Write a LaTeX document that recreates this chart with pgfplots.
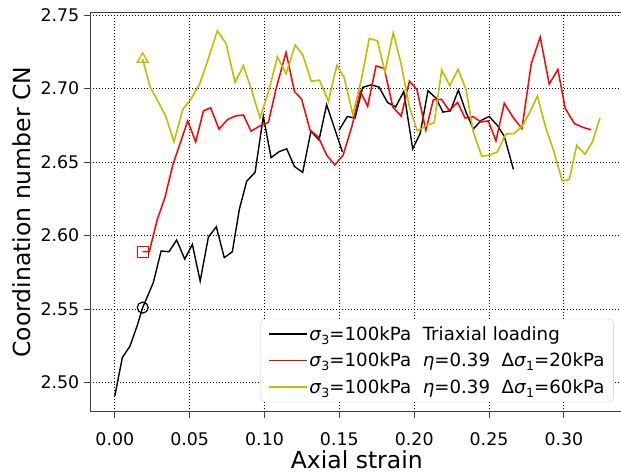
\documentclass[border=0pt]{standalone}
\usepackage{fontspec}
\setmainfont{DejaVu Sans}
\usepackage{pgfplots}
\pgfplotsset{compat=1.18}
\definecolor{myyellow}{rgb}{0.75,0.75,0}
\newcommand{\sig}{\textit{σ}}
\newcommand{\sub}[1]{\lower0.22em\hbox{\fontsize{12.6}{12}\selectfont #1}}
\begin{document}
\begin{tikzpicture}
\useasboundingbox (-90.3pt,-62.3pt) rectangle (530.7pt,411.7pt);
\begin{axis}[
  scale only axis, width=533pt, height=399pt,
  xmin=-0.0164, xmax=0.3397, ymin=2.4802, ymax=2.7516,
  xtick={0,0.05,0.1,0.15,0.2,0.25,0.3},
  ytick={2.50,2.55,2.60,2.65,2.70,2.75},
  /pgf/number format/.cd, fixed, fixed zerofill, precision=2, assume math mode=true,
  /pgfplots/.cd,
  tick pos=left,
  tick align=outside, major tick length=6pt,
  tick style={black!75, line width=1pt},
  axis line style={black!75, line width=1.2pt},
  grid=major,
  grid style={black, line width=0.8pt, dash pattern=on 1pt off 2pt},
  ticklabel style={font=\fontsize{17.4}{20}\selectfont},
  xticklabel style={anchor=base, yshift=-27.7pt},
  yticklabel style={anchor=east, xshift=-1.5pt},
  xlabel={Axial strain},
  ylabel={Coordination number CN},
  label style={font=\fontsize{23.5}{26}\selectfont},
  xlabel style={at={(axis description cs:0.5,-0.1436)}, anchor=base},
  ylabel style={at={(axis description cs:-0.1131,0.5)}, anchor=base, rotate=0},
  unbounded coords=jump,
  legend image code/.code={\draw[#1] (0pt,0pt) -- (38pt,0pt);},
  legend cell align=left,
  legend style={at={(1,0)}, anchor=south east, xshift=-9.7pt, yshift=9.5pt,
    draw=black!20, rounded corners=4pt, fill=white,
    font=\fontsize{18.2}{21}\selectfont,
    inner xsep=7pt, inner ysep=5.5pt, row sep=7pt},
]
\addplot[black, line width=1.4pt] coordinates {
(0.000,2.491) (0.005,2.517) (0.0102,2.525) (0.015,2.539) (0.0186,2.551)
(0.0257,2.568) (0.0309,2.5895) (0.0362,2.589) (0.0413,2.597) (0.0467,2.584)
(0.0518,2.594) (0.057,2.569) (0.0625,2.599) (0.0678,2.606) (0.0731,2.585)
(0.0785,2.589) (0.0832,2.618) (0.0881,2.637) (0.0937,2.643) (0.0992,2.681)
(0.1044,2.653) (0.1096,2.657) (0.1148,2.659) (0.120,2.647) (0.1255,2.643)
(0.131,2.671) (0.1364,2.665) (0.1415,2.689) (0.152,2.657)
(0.151,nan)
(0.1498,2.6717) (0.1553,2.681) (0.1605,2.680) (0.1656,2.7008) (0.1712,2.7025)
(0.1765,2.701) (0.1822,2.6905) (0.1876,2.6875) (0.193,2.698) (0.199,2.659)
(0.204,2.6695) (0.2092,2.6985) (0.2146,2.6935) (0.2192,2.684) (0.2242,2.6848)
(0.2295,2.699) (0.2346,2.684) (0.2395,2.6725) (0.245,2.6785) (0.2501,2.681)
(0.2555,2.675) (0.2602,2.6675) (0.2663,2.645)
};
\addlegendentry{\sig\sub{3}=100kPa\ \ Triaxial loading}
\addplot[red, line width=1.5pt] coordinates {
(0.0186,2.589) (0.023,2.589) (0.0284,2.611) (0.0335,2.626) (0.0387,2.648)
(0.0436,2.6626) (0.0487,2.678) (0.054,2.6637) (0.0592,2.6848) (0.064,2.6869)
(0.0696,2.6724) (0.0754,2.679) (0.0808,2.6814) (0.0859,2.682) (0.091,2.671)
(0.097,2.6746) (0.1026,2.677) (0.108,2.701) (0.1144,2.7246) (0.12,2.698)
(0.1248,2.6928) (0.1304,2.6717) (0.136,2.667) (0.1415,2.6547) (0.147,2.648)
(0.1525,2.6547) (0.1583,2.674) (0.164,2.698) (0.1689,2.688) (0.1745,2.7154)
(0.18,2.7137) (0.1857,2.6875) (0.1913,2.6812) (0.1968,2.705) (0.2018,2.6994)
(0.2078,2.6717) (0.2128,2.6924) (0.2183,2.6926) (0.2234,2.685) (0.229,2.6906)
(0.2339,2.680) (0.2395,2.6808) (0.2446,2.6773) (0.2495,2.678) (0.2546,2.6644)
(0.2602,2.690) (0.2663,2.680) (0.272,2.6728) (0.2782,2.717) (0.2842,2.735)
(0.2902,2.703) (0.296,2.713) (0.3009,2.6865) (0.307,2.6762) (0.313,2.6735)
(0.3181,2.672)
};
\addlegendentry{\sig\sub{3}=100kPa\ \ \textit{η}=0.39\ \ Δ\sig\sub{1}=20kPa}
\addplot[myyellow, line width=1.6pt] coordinates {
(0.0186,2.720) (0.0235,2.7012) (0.029,2.691) (0.0342,2.6807) (0.0395,2.6637)
(0.0454,2.6858) (0.0507,2.6926) (0.0565,2.7028) (0.062,2.7189) (0.0685,2.7393)
(0.0743,2.7307) (0.0803,2.7042) (0.0859,2.7155) (0.0915,2.6985) (0.097,2.680)
(0.103,2.699) (0.1086,2.7216) (0.1144,2.710) (0.1205,2.7296) (0.1256,2.7228)
(0.1312,2.705) (0.1367,2.7057) (0.1427,2.6914) (0.1483,2.7158) (0.1531,2.7078)
(0.159,2.6823) (0.1646,2.7057) (0.170,2.734) (0.1754,2.7325) (0.1805,2.7114)
(0.186,2.738) (0.1912,2.717) (0.1968,2.6876) (0.2021,2.6712) (0.2084,2.675)
(0.2133,2.6767) (0.2184,2.7125) (0.2238,2.702) (0.2293,2.713) (0.2346,2.6994)
(0.2395,2.6705) (0.2451,2.654) (0.2502,2.6547) (0.2555,2.6569) (0.2611,2.669)
(0.2667,2.6694) (0.2722,2.6744) (0.2774,2.6842) (0.2823,2.6948) (0.288,2.673)
(0.2934,2.657) (0.2989,2.6372) (0.3036,2.638) (0.3086,2.6615) (0.3141,2.6553)
(0.319,2.6637) (0.3241,2.680)
};
\addlegendentry{\sig\sub{3}=100kPa\ \ \textit{η}=0.39\ \ Δ\sig\sub{1}=60kPa}
\addplot[black, only marks, mark=o, mark size=5.5pt, line width=1.2pt, forget plot] coordinates {(0.0186,2.551)};
\addplot[red, only marks, mark=square, mark size=5.5pt, line width=1.2pt, forget plot] coordinates {(0.0186,2.589)};
\addplot[myyellow, only marks, mark=triangle, mark size=6.2pt, line width=1.4pt, forget plot] coordinates {(0.0186,2.720)};
\end{axis}
\end{tikzpicture}
\end{document}
